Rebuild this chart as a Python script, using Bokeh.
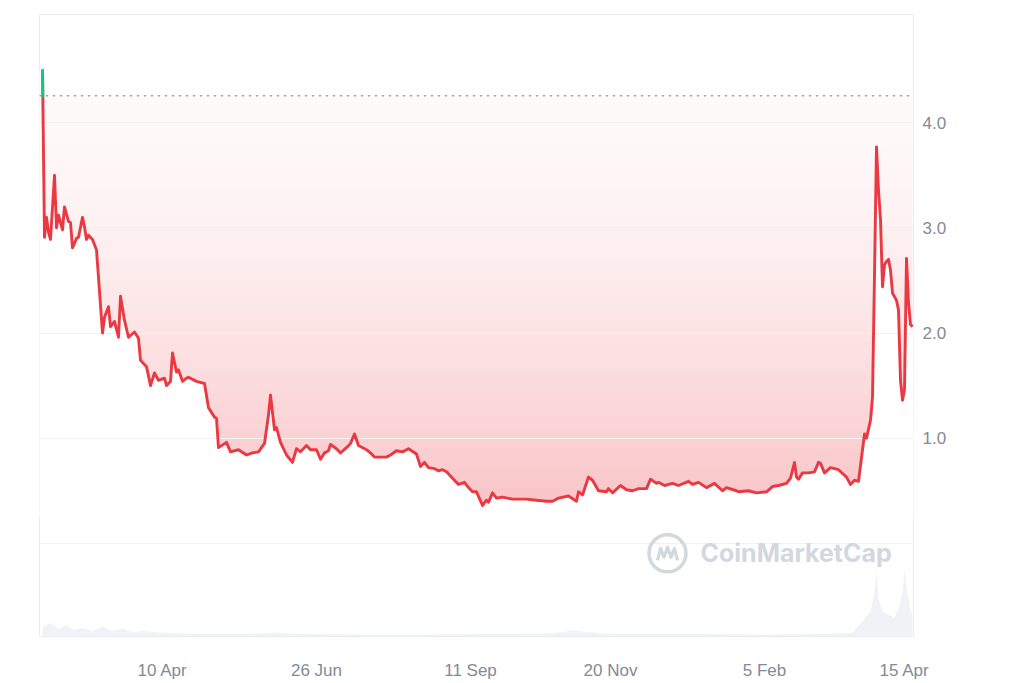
import numpy as np
import pandas as pd
from bokeh.plotting import figure
from bokeh.models import Range1d, FixedTicker, Span, Label, NumeralTickFormatter
from bokeh.embed import file_html
from bokeh.resources import INLINE

# ---------------- data ----------------
price_dates = [
    "2023-02-09", "2023-02-10", "2023-02-11", "2023-02-12", "2023-02-13", "2023-02-15",
    "2023-02-16", "2023-02-17", "2023-02-19", "2023-02-20", "2023-02-22", "2023-02-23",
    "2023-02-24", "2023-02-26", "2023-02-27", "2023-03-01", "2023-03-02", "2023-03-03",
    "2023-03-04", "2023-03-06", "2023-03-08", "2023-03-09", "2023-03-11", "2023-03-12",
    "2023-03-14", "2023-03-15", "2023-03-17", "2023-03-19", "2023-03-20", "2023-03-22",
    "2023-03-24", "2023-03-27", "2023-03-29", "2023-03-30", "2023-04-02", "2023-04-04",
    "2023-04-06", "2023-04-08", "2023-04-11", "2023-04-12", "2023-04-14", "2023-04-15",
    "2023-04-17", "2023-04-18", "2023-04-20", "2023-04-22", "2023-04-23", "2023-04-27",
    "2023-05-01", "2023-05-03", "2023-05-06", "2023-05-07", "2023-05-08", "2023-05-12",
    "2023-05-14", "2023-05-18", "2023-05-22", "2023-05-25", "2023-05-28", "2023-05-31",
    "2023-06-02", "2023-06-03", "2023-06-05", "2023-06-06", "2023-06-08", "2023-06-11",
    "2023-06-14", "2023-06-16", "2023-06-18", "2023-06-21", "2023-06-23", "2023-06-26",
    "2023-06-28", "2023-06-30", "2023-07-02", "2023-07-03", "2023-07-06", "2023-07-08",
    "2023-07-11", "2023-07-13", "2023-07-15", "2023-07-17", "2023-07-21", "2023-07-23",
    "2023-07-25", "2023-07-31", "2023-08-02", "2023-08-05", "2023-08-08", "2023-08-11",
    "2023-08-15", "2023-08-17", "2023-08-19", "2023-08-21", "2023-08-24", "2023-08-26",
    "2023-08-28", "2023-08-30", "2023-09-02", "2023-09-05", "2023-09-08", "2023-09-10",
    "2023-09-12", "2023-09-14", "2023-09-17", "2023-09-19", "2023-09-20", "2023-09-22",
    "2023-09-24", "2023-09-27", "2023-10-02", "2023-10-09", "2023-10-14", "2023-10-19",
    "2023-10-22", "2023-10-25", "2023-10-30", "2023-11-03", "2023-11-04", "2023-11-06",
    "2023-11-09", "2023-11-11", "2023-11-14", "2023-11-18", "2023-11-19", "2023-11-21",
    "2023-11-25", "2023-11-28", "2023-12-01", "2023-12-04", "2023-12-08", "2023-12-10",
    "2023-12-13", "2023-12-14", "2023-12-17", "2023-12-21", "2023-12-24", "2023-12-29",
    "2023-12-31", "2024-01-03", "2024-01-07", "2024-01-11", "2024-01-15", "2024-01-17",
    "2024-01-22", "2024-01-23", "2024-01-28", "2024-02-01", "2024-02-06", "2024-02-09",
    "2024-02-12", "2024-02-16", "2024-02-18", "2024-02-20", "2024-02-21", "2024-02-22",
    "2024-02-24", "2024-02-27", "2024-03-01", "2024-03-03", "2024-03-04", "2024-03-06",
    "2024-03-09", "2024-03-13", "2024-03-17", "2024-03-19", "2024-03-21", "2024-03-23",
    "2024-03-24", "2024-03-26", "2024-03-27", "2024-03-29", "2024-03-30", "2024-03-31",
    "2024-04-01", "2024-04-02", "2024-04-03", "2024-04-04", "2024-04-05", "2024-04-06",
    "2024-04-07", "2024-04-08", "2024-04-09", "2024-04-11", "2024-04-12", "2024-04-13",
    "2024-04-14", "2024-04-15", "2024-04-16", "2024-04-17", "2024-04-18", "2024-04-19",
]
price_values = [
    4.50, 2.91, 3.10, 2.96, 2.89, 3.50,
    3.00, 3.12, 2.98, 3.20, 3.06, 3.05,
    2.81, 2.90, 2.91, 3.10, 3.01, 2.89,
    2.93, 2.89, 2.79, 2.53, 2.00, 2.15,
    2.25, 2.06, 2.11, 1.96, 2.35, 2.12,
    1.96, 2.01, 1.95, 1.74, 1.68, 1.50,
    1.62, 1.55, 1.57, 1.50, 1.54, 1.81,
    1.63, 1.65, 1.54, 1.57, 1.58, 1.54,
    1.52, 1.29, 1.20, 1.19, 0.91, 0.96,
    0.87, 0.89, 0.84, 0.86, 0.87, 0.95,
    1.22, 1.41, 1.08, 1.10, 0.96, 0.84,
    0.77, 0.90, 0.87, 0.93, 0.89, 0.89,
    0.80, 0.86, 0.88, 0.94, 0.90, 0.86,
    0.91, 0.95, 1.04, 0.93, 0.89, 0.86,
    0.82, 0.82, 0.84, 0.88, 0.87, 0.90,
    0.85, 0.73, 0.77, 0.72, 0.71, 0.69,
    0.70, 0.68, 0.62, 0.56, 0.58, 0.53,
    0.49, 0.49, 0.36, 0.41, 0.39, 0.48,
    0.43, 0.44, 0.42, 0.42, 0.41, 0.40,
    0.40, 0.43, 0.45, 0.40, 0.49, 0.46,
    0.63, 0.60, 0.50, 0.49, 0.52, 0.48,
    0.55, 0.51, 0.50, 0.52, 0.52, 0.61,
    0.57, 0.58, 0.55, 0.57, 0.55, 0.59,
    0.56, 0.58, 0.53, 0.57, 0.50, 0.53,
    0.50, 0.49, 0.50, 0.48, 0.49, 0.54,
    0.55, 0.57, 0.62, 0.77, 0.63, 0.61,
    0.67, 0.67, 0.68, 0.77, 0.76, 0.67,
    0.72, 0.70, 0.63, 0.56, 0.60, 0.59,
    0.74, 1.04, 1.00, 1.17, 1.39, 2.55,
    3.77, 3.36, 3.08, 2.44, 2.65, 2.68,
    2.70, 2.60, 2.38, 2.31, 2.22, 1.55,
    1.36, 1.46, 2.71, 2.29, 2.08, 2.06,
]
volume_dates = [
    "2023-02-09", "2023-02-13", "2023-02-17", "2023-02-21", "2023-02-25", "2023-03-01",
    "2023-03-06", "2023-03-11", "2023-03-16", "2023-03-21", "2023-03-26", "2023-03-31",
    "2023-04-10", "2023-04-20", "2023-04-30", "2023-05-20", "2023-06-04", "2023-06-19",
    "2023-07-19", "2023-08-18", "2023-09-17", "2023-10-17", "2023-10-27", "2023-11-01",
    "2023-11-06", "2023-11-16", "2023-12-06", "2024-01-05", "2024-02-04", "2024-03-05",
    "2024-03-20", "2024-03-25", "2024-03-29", "2024-03-31", "2024-04-01", "2024-04-02",
    "2024-04-04", "2024-04-07", "2024-04-10", "2024-04-12", "2024-04-14", "2024-04-15",
    "2024-04-16", "2024-04-18", "2024-04-19",
]
volume_values = [
    1.5, 2.2, 1.2, 1.8, 1.0, 1.4,
    0.8, 1.6, 0.9, 1.3, 0.7, 0.9,
    0.6, 0.5, 0.4, 0.4, 0.6, 0.4,
    0.3, 0.3, 0.4, 0.5, 0.7, 1.0,
    0.8, 0.5, 0.4, 0.4, 0.3, 0.4,
    0.6, 2.5, 4.0, 7.0, 10.5, 6.0,
    4.0, 3.5, 3.0, 4.5, 7.0, 10.8,
    8.0, 4.0, 3.5,
]
tick_dates = ["2023-04-10", "2023-06-26", "2023-09-11", "2023-11-20", "2024-02-05", "2024-04-15"]
tick_labels = ["10 Apr", "26 Jun", "11 Sep", "20 Nov", "5 Feb", "15 Apr"]
y_ticks = [1.0, 2.0, 3.0, 4.0]
grid_levels = [0.0, 1.0, 2.0, 3.0, 4.0]
reference_price = 4.257
x_start, x_end = "2023-02-07 12:00", "2024-04-19 12:00"
y_start, y_end = -0.886, 5.029

RED = "#ea3943"
GREEN = "#16c784"
GRAY_TEXT = "#838a99"
GRID = "#eff1f4"
MARK = "#d3d7de"


def ms(s):
    return pd.Timestamp(s).value / 1e6


DAY = 86400000.0
px = np.array([ms(d) for d in price_dates])
py = np.array(price_values, dtype=float)
vx = np.array([ms(d) for d in volume_dates])
vy = np.array(volume_values, dtype=float)

p = figure(
    width=1000, height=682, x_axis_type="datetime", y_axis_location="right",
    output_backend="svg", toolbar_location=None,
    x_range=Range1d(ms(x_start), ms(x_end)), y_range=Range1d(y_start, y_end),
    min_border_left=39, min_border_right=87, min_border_top=14, min_border_bottom=40,
)
p.extra_y_ranges = {"vol": Range1d(0, 100)}
p.background_fill_color = "white"
p.border_fill_color = "white"
p.outline_line_color = "#e9ecf0"
p.outline_line_width = 1

# ----- gradient fill between price line and reference line -----
vlow = 0.30
N = 256
rows = vlow + (reference_price - vlow) * (np.arange(N) + 0.5) / N
tt = np.clip((reference_price - rows) / (reference_price - py.min()), 0, 1)
alpha = 0.03 + 0.27 * tt ** 1.6
img = np.empty((N, 2), dtype=np.uint32)
view = img.view(dtype=np.uint8).reshape((N, 2, 4))
view[:, :, 0] = 234
view[:, :, 1] = 57
view[:, :, 2] = 67
view[:, :, 3] = (alpha * 255).astype(np.uint8)[:, None]
p.image_rgba(image=[img], x=px[0], y=vlow, dw=px[-1] - px[0], dh=reference_price - vlow, level="image")
# white mask below the line (slightly wider than the gradient to hide edge seams)
mx = np.concatenate([[px[0] - 2 * DAY], px, [px[-1] + 2 * DAY]])
my = np.concatenate([[py[0]], py, [py[-1]]])
p.varea(x=mx, y1=vlow - 0.05, y2=my, fill_color="white", level="image")

# ----- volume (faint) -----
p.varea(x=vx, y1=0, y2=vy, y_range_name="vol", fill_color="#eceef2", fill_alpha=0.75)

# ----- price line -----
p.line(px, py, line_color=RED, line_width=2.9, line_join="round")

# green part above the reference price
gxs, gys = [], []
for i in range(len(py) - 1):
    a, b = py[i], py[i + 1]
    if a >= reference_price or b >= reference_price:
        xa, xb = px[i], px[i + 1]
        if a >= reference_price and b >= reference_price:
            gxs.append([xa, xb]); gys.append([a, b])
        else:
            f = (reference_price - a) / (b - a)
            xc = xa + f * (xb - xa)
            if a >= reference_price:
                gxs.append([xa, xc]); gys.append([a, reference_price])
            else:
                gxs.append([xc, xb]); gys.append([reference_price, b])
if gxs:
    p.multi_line(gxs, gys, line_color=GREEN, line_width=3.0, line_cap="round")

# dotted reference line
p.add_layout(Span(location=reference_price, dimension="width", line_color="#9aa0ab",
                  line_width=1.6, line_dash="1 6", line_cap="round"))

# ----- watermark -----
wm_y = -0.095
p.scatter(x=[ms("2023-12-18 12:00")], y=[wm_y], size=37, fill_color=None,
          line_color=MARK, line_width=3.5)
lx = ms("2023-12-18 12:00")
dxd = DAY / 2.0   # ms per pixel
dyv = 1 / 105.0   # value per pixel
path = [(-10, -7), (-7, 5), (-3.5, -4), (0, 6), (3.5, -4), (7, 5), (10, -7)]
p.line([lx + a * dxd for a, _ in path], [wm_y + b * dyv for _, b in path],
       line_color=MARK, line_width=3.2, line_join="round")
p.add_layout(Label(x=ms("2024-01-04"), y=wm_y, text="CoinMarketCap",
                   text_font="Inter", text_font_size="25px", text_font_style="bold",
                   text_color=MARK, text_baseline="middle", text_align="left"))

# ----- axes & grid -----
p.xgrid.visible = False
p.ygrid.ticker = FixedTicker(ticks=grid_levels)
p.ygrid.grid_line_color = GRID
p.ygrid.grid_line_width = 1

tick_ms = [ms(d) for d in tick_dates]
xa = p.xaxis[0]
xa.ticker = FixedTicker(ticks=tick_ms)
xa.major_label_overrides = {int(t): lab for t, lab in zip(tick_ms, tick_labels)}
xa.axis_line_color = None
xa.major_tick_line_color = None
xa.minor_tick_line_color = None
xa.major_tick_out = 0
xa.major_tick_in = 0
xa.minor_tick_out = 0
xa.major_label_standoff = 24
xa.major_label_text_line_height = 1.0
xa.major_label_text_font = "Liberation Sans"
xa.major_label_text_font_size = "17px"
xa.major_label_text_color = GRAY_TEXT

ya = p.yaxis[0]
ya.ticker = FixedTicker(ticks=y_ticks)
ya.formatter = NumeralTickFormatter(format="0.0")
ya.axis_line_color = None
ya.major_tick_line_color = None
ya.minor_tick_line_color = None
ya.major_tick_out = 0
ya.major_tick_in = 0
ya.minor_tick_out = 0
ya.major_label_standoff = 9
ya.major_label_text_font = "Liberation Sans"
ya.major_label_text_font_size = "17px"
ya.major_label_text_color = GRAY_TEXT

open("out.html", "w").write(file_html(p, INLINE))
